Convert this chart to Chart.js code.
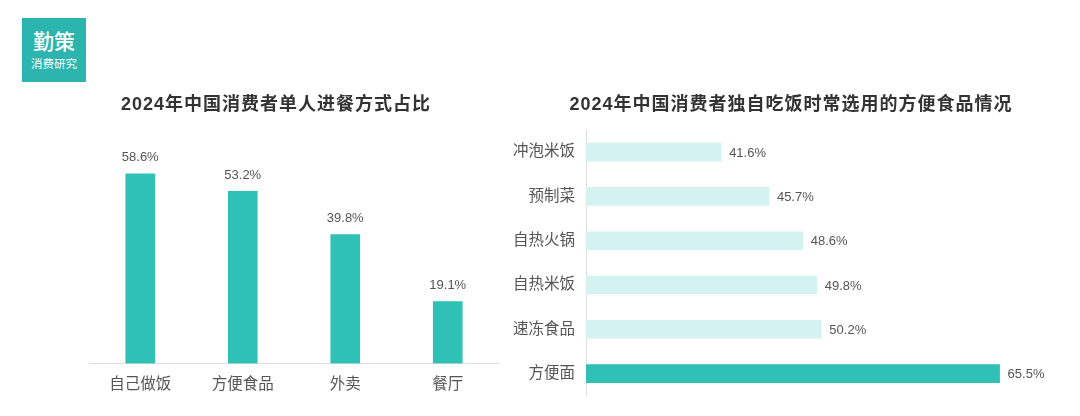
<!DOCTYPE html>
<html><head><meta charset="utf-8">
<script src="https://cdn.jsdelivr.net/npm/chart.js@4.4.1/dist/chart.umd.min.js"></script>
<style>
html,body{margin:0;padding:0;background:#fff;width:1080px;height:416px;overflow:hidden;}
#wrap{position:relative;width:1080px;height:416px;}
canvas{position:absolute;left:0;top:0;}
.logo{position:absolute;left:22px;top:18px;width:64px;height:64px;background:#2cb5ae;color:#fff;text-align:center;font-family:'Noto Sans CJK SC',sans-serif;}
.logo .a{position:absolute;left:0;width:64px;top:9px;font-size:21px;line-height:26px;font-weight:500;}
.logo .b{position:absolute;left:0;width:64px;top:37px;font-size:11.5px;line-height:16px;}
.title{position:absolute;top:92px;font-family:'Liberation Sans','Noto Sans CJK SC',sans-serif;font-weight:bold;font-size:18px;line-height:24px;color:#333;letter-spacing:1px;white-space:nowrap;transform:translateX(-50%);}
</style></head>
<body><div id="wrap">
<canvas id="c1" width="1080" height="416"></canvas>
<canvas id="c2" width="1080" height="416"></canvas>
<div class="logo"><div class="a">勤策</div><div class="b">消费研究</div></div>
<div class="title" style="left:276px">2024年中国消费者单人进餐方式占比</div>
<div class="title" style="left:791px">2024年中国消费者独自吃饭时常选用的方便食品情况</div>
</div>
<script>
const modeCategories = ['自己做饭','方便食品','外卖','餐厅'];
const modeValues = [58.6, 53.2, 39.8, 19.1];
const foodCategories = ['冲泡米饭','预制菜','自热火锅','自热米饭','速冻食品','方便面'];
const foodValues = [41.6, 45.7, 48.6, 49.8, 50.2, 65.5];
const highlightFood = '方便面';

const TEAL = '#2fc1b5';
const LIGHT = '#d4f3f0';
const FONT = "'Liberation Sans','Noto Sans CJK SC',sans-serif";
const LABEL_COLOR = '#555';

const valueLabels = {
  id:'valueLabels',
  afterDatasetsDraw(chart){
    const ctx = chart.ctx;
    const horiz = chart.options.indexAxis === 'y';
    const meta = chart.getDatasetMeta(0);
    const data = chart.data.datasets[0].data;
    ctx.save();
    ctx.font = '13px ' + FONT;
    ctx.fillStyle = LABEL_COLOR;
    meta.data.forEach((el,i)=>{
      const txt = data[i].toFixed(1) + '%';
      if (horiz){
        ctx.textAlign='left'; ctx.textBaseline='middle';
        ctx.fillText(txt, el.x + 8, el.y + 1);
      } else {
        ctx.textAlign='center'; ctx.textBaseline='middle';
        ctx.fillText(txt, el.x, el.y - 16);
      }
    });
    ctx.restore();
  }
};

new Chart(document.getElementById('c1'), {
  type:'bar',
  data:{labels:modeCategories, datasets:[{data:modeValues, backgroundColor:TEAL, barThickness:29}]},
  options:{
    responsive:false, animation:false, events:[],
    layout:{padding:{left:89, right:581, top:137, bottom:10}},
    plugins:{legend:{display:false}, tooltip:{enabled:false}},
    scales:{
      x:{grid:{display:false, drawTicks:false}, border:{display:true, color:'#dddddd', width:1},
         ticks:{color:LABEL_COLOR, font:{family:FONT, size:15.5}, padding:12}},
      y:{display:false, min:0, max:70}
    }
  },
  plugins:[valueLabels]
});

new Chart(document.getElementById('c2'), {
  type:'bar',
  data:{labels:foodCategories, datasets:[{data:foodValues,
    backgroundColor:foodCategories.map(c=>c===highlightFood?TEAL:LIGHT), barThickness:18}]},
  options:{
    indexAxis:'y', responsive:false, animation:false, events:[],
    layout:{padding:{left:480, right:28, top:130, bottom:20}},
    plugins:{legend:{display:false}, tooltip:{enabled:false}},
    scales:{
      x:{display:false, min:30, max:70},
      y:{grid:{display:false, drawTicks:false}, border:{display:true, color:'#dddddd', width:1},
         ticks:{color:LABEL_COLOR, font:{family:FONT, size:15.5}, padding:11},
         afterFit(s){ s.width = 106; }}
    }
  },
  plugins:[valueLabels]
});
</script>
</body></html>
